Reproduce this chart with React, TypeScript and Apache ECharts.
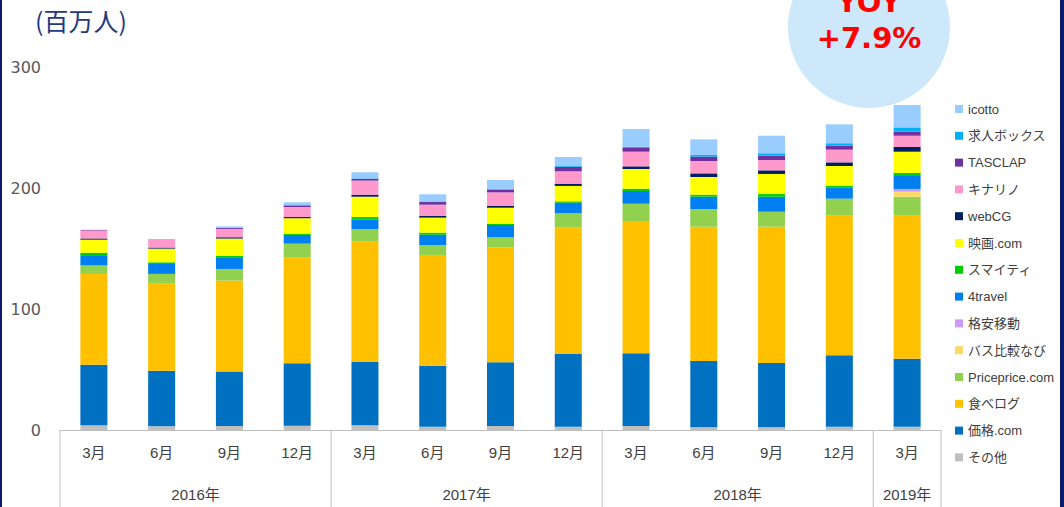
import React, { useEffect, useRef } from 'react';
import * as echarts from 'echarts';

const months = ['3月', '6月', '9月', '12月', '3月', '6月', '9月', '12月', '3月', '6月', '9月', '12月', '3月'];
const yearLabels = ['2016年', '2017年', '2018年', '2019年'];
const yearSpans = [4, 4, 4, 1];

const unitLabel = '(百万人)';
const yoyTitle = 'YOY';
const yoyValue = '+7.9%';

// stack order: bottom -> top
const seriesNames = ['その他', '価格.com', '食べログ', 'Priceprice.com', 'バス比較なび', '格安移動', '4travel', 'スマイティ', '映画.com', 'webCG', 'キナリノ', 'TASCLAP', '求人ボックス', 'icotto'];
const seriesColors = ['#BFBFBF', '#0070C0', '#FFC000', '#92D050', '#FFD966', '#CC99FF', '#0080F0', '#00CC00', '#FFFF00', '#002060', '#FF99CC', '#7030A0', '#00B0F0', '#99CCFF'];

const sonota = [4, 3, 3.3, 3.6, 3.9, 2.7, 3.3, 2.7, 3.3, 2.2, 2.2, 2.7, 2.7];
const kakaku = [50, 46, 45, 51.5, 52.3, 50.5, 52.6, 60.1, 60.1, 54.8, 53.2, 59, 56.2];
const tabelog = [75, 72, 75.2, 87.6, 99.4, 90.8, 94.8, 104.4, 109.3, 111, 112.6, 115.7, 118.2];
const priceprice = [7, 8, 9.6, 11.3, 10.3, 8.9, 8.5, 11.9, 14.3, 14.6, 12.4, 13.8, 15.7];
const busNavi = [0, 0, 0, 0, 0, 0, 0, 0, 0, 0, 0, 0, 4.1];
const kakuyasu = [0, 0, 0, 0, 0, 0, 0, 0, 0, 0, 0, 0, 2.3];
const fourTravel = [8.5, 8.2, 9.7, 7.2, 8.2, 8.5, 10.2, 8.8, 10.5, 10.2, 12.4, 9.4, 10.7];
const smaity = [2, 1.4, 1.1, 0.8, 1.9, 1.7, 1.1, 1.1, 1.9, 1.7, 2.2, 1.3, 2.5];
const eiga = [10.8, 11.3, 14.3, 13, 16.8, 12.4, 13.2, 12.7, 16.3, 14.6, 16.6, 16.3, 17.6];
const webcg = [1, 0.9, 1.1, 1, 1.7, 1.6, 1.7, 1.9, 2.2, 3, 3, 3, 3.9];
const kinarino = [6.6, 6.3, 6.9, 8.3, 11.6, 9.1, 11, 10.2, 12.1, 10.2, 8.5, 10.5, 9.3];
const tasclap = [0.5, 0.3, 0.8, 1.4, 1.6, 2.2, 2.2, 3.6, 3.6, 3.6, 3.6, 3.3, 3.3];
const kyujin = [0, 0, 0, 0, 0.3, 0.5, 0.5, 0.7, 0.5, 1.4, 2, 2, 3.6];
const icotto = [0, 0.5, 1.3, 2.5, 5, 5.9, 7.5, 7.5, 14.7, 12.9, 14.5, 15.6, 18.5];

const seriesValues = [sonota, kakaku, tabelog, priceprice, busNavi, kakuyasu, fourTravel, smaity, eiga, webcg, kinarino, tasclap, kyujin, icotto];

const yMin = 0;
const yMax = 300;
const yInterval = 100;

const FONT = "'Liberation Sans', 'Noto Sans CJK JP', sans-serif";
const NUM_FONT = "'DejaVu Sans', 'Noto Sans CJK JP', sans-serif";
const CJK_FONT = "'Noto Sans CJK JP', 'Liberation Sans', sans-serif";

export default function App() {
  const ref = useRef<HTMLDivElement>(null);

  useEffect(() => {
    const chart = echarts.init(ref.current as HTMLDivElement, null, { renderer: 'svg' });
    const option: any = {
      animation: false,
      backgroundColor: '#FFFFFF',
      grid: { left: 60, right: 123, top: 67, bottom: 77, containLabel: false },
      legend: {
        orient: 'vertical',
        left: 950,
        top: 97,
        itemWidth: 8,
        itemHeight: 8,
        itemGap: 12.8,
        icon: 'rect',
        data: seriesNames.slice().reverse(),
        textStyle: { fontFamily: FONT, fontSize: 13, color: '#404040', lineHeight: 14 },
      },
      xAxis: {
        type: 'category',
        data: months,
        axisLine: { show: true, lineStyle: { color: '#BFBFBF', width: 1 } },
        axisTick: { show: false },
        axisLabel: { fontFamily: FONT, fontSize: 15, color: '#404040', margin: 15, interval: 0 },
      },
      yAxis: {
        type: 'value',
        min: yMin,
        max: yMax,
        interval: yInterval,
        axisLine: { show: false },
        axisTick: { show: false },
        splitLine: { show: false },
        axisLabel: { fontFamily: NUM_FONT, fontSize: 16, color: '#595959', margin: 19 },
      },
      series: seriesNames.map((name, i) => ({
        name,
        type: 'bar',
        stack: 'total',
        barWidth: 27,
        itemStyle: { color: seriesColors[i] },
        data: seriesValues[i],
      })),
    };
    chart.setOption(option);

    const px = (i: number) => chart.convertToPixel({ xAxisIndex: 0 }, i) as number;
    const step = px(1) - px(0);
    const base = chart.convertToPixel({ yAxisIndex: 0 }, 0) as number;
    const g: any[] = [];
    let start = 0;
    const firstLeft = px(0) - step / 2;
    g.push({ type: 'line', shape: { x1: firstLeft, y1: base, x2: firstLeft, y2: 507 }, style: { stroke: '#BFBFBF', lineWidth: 1 } });
    yearSpans.forEach((span, k) => {
      const end = start + span - 1;
      const left = px(start) - step / 2;
      const right = px(end) + step / 2;
      g.push({
        type: 'text',
        x: (left + right) / 2,
        y: 494,
        style: { text: yearLabels[k], fontFamily: FONT, fontSize: 15, fill: '#404040', align: 'center', verticalAlign: 'middle' },
      });
      g.push({ type: 'line', shape: { x1: right, y1: base, x2: right, y2: 507 }, style: { stroke: '#BFBFBF', lineWidth: 1 } });
      start += span;
    });

    g.push({ type: 'circle', shape: { cx: 869, cy: 27, r: 81 }, style: { fill: '#CCE8FA' }, z: 0 });
    g.push({
      type: 'text', x: 869, y: 2, z: 1,
      style: { text: yoyTitle, fontFamily: NUM_FONT, fontWeight: 'bold', fontSize: 29, fill: '#FF0000', align: 'center', verticalAlign: 'middle' },
    });
    g.push({
      type: 'text', x: 869, y: 38, z: 1,
      style: { text: yoyValue, fontFamily: NUM_FONT, fontWeight: 'bold', fontSize: 29, fill: '#FF0000', align: 'center', verticalAlign: 'middle' },
    });
    g.push({
      type: 'text', x: 35, y: 20,
      style: { text: unitLabel, fontFamily: CJK_FONT, fontSize: 25, fill: '#1F3A80', align: 'left', verticalAlign: 'middle' },
    });
    g.push({ type: 'rect', shape: { x: 0, y: 0, width: 2, height: 507 }, style: { fill: '#0D1A6B' } });
    g.push({ type: 'rect', shape: { x: 1060, y: 0, width: 4, height: 507 }, style: { fill: '#0D1A6B' } });

    chart.setOption({ graphic: g });

    return () => chart.dispose();
  }, []);

  return <div ref={ref} style={{ position: 'absolute', left: 0, top: 0, width: 1064, height: 507 }} />;
}
